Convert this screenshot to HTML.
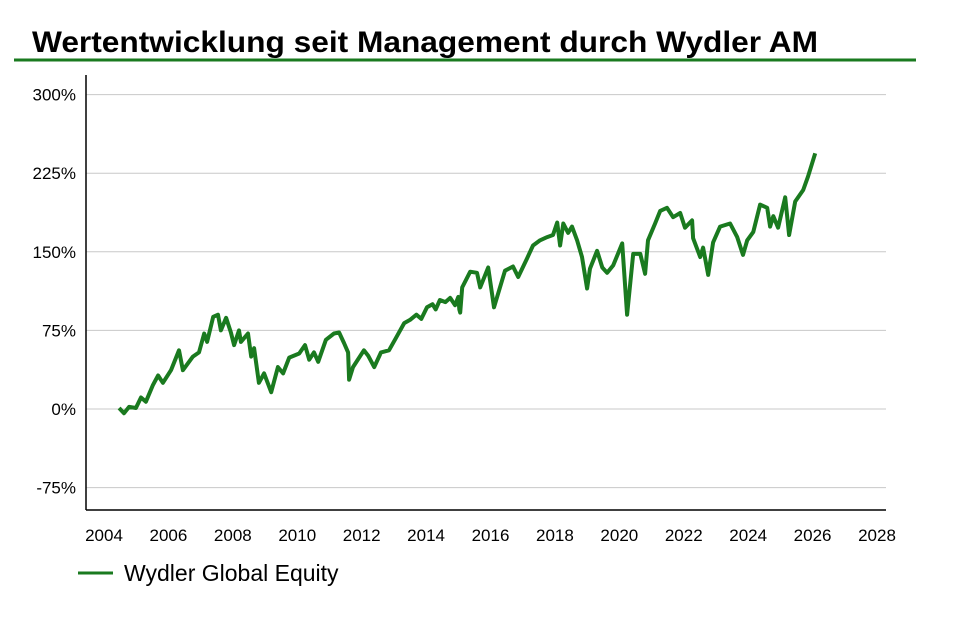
<!DOCTYPE html>
<html><head><meta charset="utf-8"><style>
body{margin:0;background:#fff;width:974px;height:614px;overflow:hidden;font-family:"Liberation Sans",sans-serif}
</style></head><body>
<svg id="chart" width="974" height="614" xmlns="http://www.w3.org/2000/svg">
<text x="32" y="52" font-size="30" font-weight="bold" fill="#000" textLength="786" lengthAdjust="spacingAndGlyphs">Wertentwicklung seit Management durch Wydler AM</text>
<line x1="14" y1="60" x2="916" y2="60" stroke="#1a7a1f" stroke-width="3"/>
<g id="grid"></g>
<g id="yticks"></g>
<g id="xticks"></g>
<line x1="86" y1="75" x2="86" y2="510" stroke="#000" stroke-width="1.5"/>
<line x1="86" y1="510" x2="886" y2="510" stroke="#000" stroke-width="1.5"/>
<path id="series" fill="none" stroke="#1a7a1f" stroke-width="4" stroke-linejoin="round"/>
<line x1="78" y1="573" x2="113" y2="573" stroke="#1a7a1f" stroke-width="3"/>
<text x="124" y="581" font-size="23" fill="#000">Wydler Global Equity</text>
</svg>
<script>
const yTicks=[300,225,150,75,0,-75];
const xTicks=[2004,2006,2008,2010,2012,2014,2016,2018,2020,2022,2024,2026,2028];
const years=[2004.47,2004.62,2004.78,2004.99,2005.15,2005.30,2005.52,2005.68,2005.83,2006.08,2006.33,2006.45,2006.76,2006.95,2007.11,2007.20,2007.39,2007.54,2007.63,2007.79,2007.94,2008.04,2008.19,2008.25,2008.47,2008.57,2008.66,2008.81,2008.97,2009.19,2009.40,2009.56,2009.75,2010.06,2010.24,2010.37,2010.52,2010.65,2010.89,2011.14,2011.30,2011.45,2011.58,2011.61,2011.73,2012.07,2012.20,2012.39,2012.60,2012.85,2013.07,2013.32,2013.50,2013.70,2013.85,2014.03,2014.20,2014.30,2014.43,2014.60,2014.75,2014.90,2015.00,2015.03,2015.06,2015.12,2015.37,2015.58,2015.68,2015.93,2016.11,2016.45,2016.70,2016.86,2017.14,2017.32,2017.54,2017.76,2017.94,2018.07,2018.16,2018.26,2018.41,2018.53,2018.69,2018.84,2019.00,2019.09,2019.31,2019.47,2019.62,2019.81,2020.09,2020.24,2020.43,2020.65,2020.80,2020.89,2021.11,2021.27,2021.48,2021.67,2021.89,2022.04,2022.26,2022.29,2022.51,2022.60,2022.76,2022.91,2023.13,2023.44,2023.66,2023.84,2023.97,2024.16,2024.37,2024.59,2024.68,2024.78,2024.93,2025.15,2025.27,2025.46,2025.71,2025.86,2026.08];
const values=[1,-4,2,1,11,7,23,32,25,37,56,37,50,54,72,64,88,90,75,87,73,61,75,64,72,50,58,25,34,16,40,34,49,53,61,47,54,45,66,72,73,63,54,28,40,56,51,40,54,56,68,82,85,90,86,97,100,95,104,102,106,99,107,95,92,116,131,130,116,135,97,132,136,126,144,156,161,164,166,178,156,177,168,174,161,145,115,134,151,135,130,137,158,90,148,148,129,161,177,189,192,183,187,173,180,163,145,154,128,159,174,177,164,147,161,169,195,192,174,184,173,202,166,198,209,222,244];
const xS=y=>104+(y-2004)*(773/24);
const yS=v=>409-v*(78.6/75);
const ns="http://www.w3.org/2000/svg";
const grid=document.getElementById('grid'),yt=document.getElementById('yticks'),xt=document.getElementById('xticks');
yTicks.forEach(t=>{
 const l=document.createElementNS(ns,'line');
 
 
 l.setAttribute('x1',86);l.setAttribute('x2',886);l.setAttribute('y1',yS(t));l.setAttribute('y2',yS(t));
 l.setAttribute('stroke','#c8c8c8');l.setAttribute('stroke-width','1');grid.appendChild(l);
 const tx=document.createElementNS(ns,'text');
 
 
 tx.setAttribute('x',76);tx.setAttribute('y',yS(t)+6);tx.setAttribute('text-anchor','end');tx.setAttribute('font-size','17');
 tx.textContent=t+'%';yt.appendChild(tx);
});
xTicks.forEach(t=>{
 const tx=document.createElementNS(ns,'text');
 
 
 tx.setAttribute('x',xS(t));tx.setAttribute('y',541);tx.setAttribute('text-anchor','middle');tx.setAttribute('font-size','17');
 tx.textContent=t;xt.appendChild(tx);
});
document.getElementById('series').setAttribute('d',years.map((y,i)=>(i?'L':'M')+xS(y).toFixed(1)+','+yS(values[i]).toFixed(1)).join(''));
</script>
</body></html>
